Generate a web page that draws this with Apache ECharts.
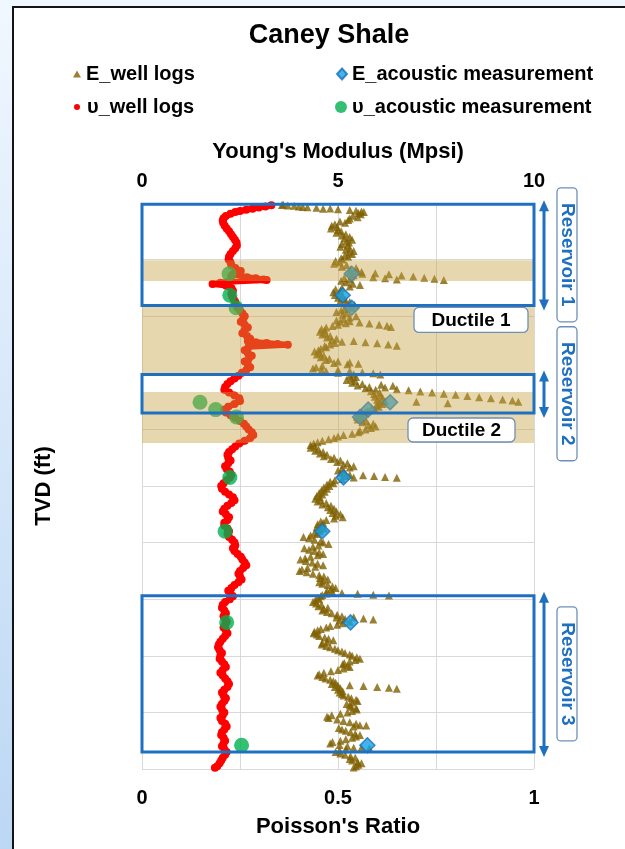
<!DOCTYPE html>
<html>
<head>
<meta charset="utf-8">
<script src="https://cdn.jsdelivr.net/npm/echarts@6/dist/echarts.min.js"></script>
<style>
  html, body { margin: 0; padding: 0; }
  body {
    width: 625px; height: 849px; overflow: hidden; position: relative;
    background: linear-gradient(180deg, #f1f7fe 0%, #d9e9fa 45%, #bcd7f4 100%);
  }
  #panel {
    position: absolute; left: 12px; top: 6px; width: 640px; height: 870px;
    background: #ffffff; border: 2.5px solid #141414;
  }
  #chart { position: absolute; left: 0; top: 0; width: 625px; height: 849px; }
</style>
</head>
<body>
<div id="panel"></div>
<div id="chart"></div>
<script>
// Well-log Poisson's ratio: [TVD ft, ratio]
const nuWellLog = [
  [0.4,0.330],[0.6,0.315],[0.8,0.298],[1.0,0.282],[1.2,0.266],[1.4,0.250],[1.6,0.238],[1.9,0.226],
  [2.3,0.214],[2.7,0.208],[3.1,0.206],[3.5,0.207],[4.0,0.211],[4.5,0.216],[5.0,0.222],[5.5,0.227],
  [6.0,0.232],[6.5,0.237],[7.0,0.241],[7.5,0.242],[8.0,0.238],[8.5,0.232],[9.0,0.226],[9.5,0.222],
  [10.0,0.221],[10.5,0.226],[11.0,0.228],[11.5,0.238],[12.0,0.252],[12.3,0.244],[12.6,0.232],[12.9,0.228],
  [13.1,0.268],[13.3,0.290],[13.5,0.310],[13.6,0.318],[13.9,0.220],[14.1,0.200],[14.3,0.180],[14.6,0.215],
  [15.0,0.228],[15.5,0.232],[16.0,0.228],[16.5,0.230],[17.0,0.234],[17.5,0.238],[18.0,0.240],[18.5,0.244],
  [19.0,0.250],[19.5,0.256],[20.0,0.262],[20.5,0.258],[21.0,0.252],[21.5,0.262],[22.0,0.270],[22.5,0.262],
  [23.0,0.256],[23.5,0.268],[24.0,0.276],[24.4,0.270],[24.6,0.290],[24.75,0.318],[24.9,0.346],[25.05,0.372],
  [25.4,0.272],[26.0,0.262],[26.5,0.270],[27.0,0.280],[27.5,0.272],[28.0,0.262],[28.5,0.270],[29.0,0.276],
  [29.5,0.266],[30.0,0.255],[30.5,0.246],[31.0,0.236],[31.5,0.226],[32.0,0.218],[32.5,0.212],[33.0,0.210],
  [33.5,0.222],[34.0,0.236],[34.5,0.248],[35.0,0.250],[35.5,0.236],[36.0,0.220],[36.5,0.210],[37.0,0.214],
  [37.5,0.226],[38.0,0.238],[38.5,0.250],[39.0,0.260],[39.5,0.266],[40.0,0.272],[40.5,0.280],[41.0,0.284],
  [41.5,0.276],[42.0,0.262],[42.5,0.248],[43.0,0.238],[43.5,0.230],[44.0,0.222],[44.5,0.218],[45.0,0.220],
  [45.5,0.226],[46.0,0.220],[46.5,0.212],[47.0,0.216],[47.5,0.224],[48.0,0.228],[48.5,0.224],[49.0,0.216],
  [49.5,0.208],[50.0,0.202],[50.5,0.204],[51.0,0.212],[51.5,0.222],[52.0,0.232],[52.5,0.236],[53.0,0.228],
  [53.5,0.218],[54.0,0.210],[54.5,0.206],[55.0,0.214],[55.5,0.222],[56.0,0.218],[56.5,0.210],[57.0,0.210],
  [57.5,0.218],[58.0,0.222],[58.5,0.218],[59.0,0.222],[59.5,0.230],[60.0,0.236],[60.5,0.238],[61.0,0.232],
  [61.5,0.236],[62.0,0.244],[62.5,0.252],[63.0,0.256],[63.5,0.262],[64.0,0.266],[64.5,0.258],[65.0,0.250],
  [65.5,0.246],[66.0,0.250],[66.5,0.254],[67.0,0.246],[67.5,0.236],[68.0,0.228],[68.5,0.220],[69.0,0.226],
  [69.5,0.232],[70.0,0.224],[70.5,0.212],[71.0,0.206],[71.5,0.204],[72.0,0.210],[72.5,0.214],[73.0,0.208],
  [73.5,0.212],[74.0,0.216],[74.5,0.212],[75.0,0.208],[75.5,0.214],[76.0,0.218],[76.5,0.212],[77.0,0.206],
  [77.5,0.200],[78.0,0.196],[78.5,0.194],[79.0,0.198],[79.5,0.204],[80.0,0.200],[80.5,0.198],[81.0,0.204],
  [81.5,0.210],[82.0,0.214],[82.5,0.206],[83.0,0.200],[83.5,0.206],[84.0,0.212],[84.5,0.218],[85.0,0.222],
  [85.5,0.218],[86.0,0.210],[86.5,0.204],[87.0,0.208],[87.5,0.214],[88.0,0.210],[88.5,0.204],[89.0,0.200],
  [89.5,0.204],[90.0,0.210],[90.5,0.206],[91.0,0.200],[91.5,0.204],[92.0,0.212],[92.5,0.216],[93.0,0.210],
  [93.5,0.204],[94.0,0.202],[94.5,0.208],[95.0,0.212],[95.5,0.208],[96.0,0.204],[96.5,0.210],[97.0,0.216],
  [97.5,0.212],[98.0,0.206],[98.5,0.202],[99.0,0.198],[99.5,0.192],[99.8,0.186]
];

// Well-log Young's modulus (Mpsi), sampled every 0.25 ft from 0.25 ft down
const eLogStartFt = 0.25;
const eLogStepFt = 0.25;
const eWellLog = [
  3.60, 3.88, 4.22,
  4.62, 5.30, 5.60, 5.52,   5.58, 5.38, 5.50, 5.30,   5.26, 5.05, 5.18, 4.92,   4.84, 4.98, 4.82, 5.00,
  5.08, 4.96, 5.20, 5.10,   5.30, 5.16, 5.36, 5.22,   5.28, 5.10, 5.24, 5.06,   5.30, 5.20, 5.40, 5.28,
  5.36, 5.18, 5.26, 5.08,   5.12, 4.94, 5.04, 4.90,   5.22, 5.10, 5.46, 5.32,   5.50, 5.30, 5.62, 5.40,
  5.34, 5.16, 5.30, 5.08,   5.20, 5.38, 5.56, 5.30,   5.10, 4.94, 5.06, 4.88,   5.02, 4.92, 5.12, 5.00,
  5.18, 5.06, 5.30, 5.20,   5.42, 5.28, 5.36, 5.16,   5.08, 4.96, 5.22, 5.12,   5.46, 5.30, 5.14, 4.96,
  5.06, 5.20, 5.00, 4.86,   4.70, 4.58, 4.66, 4.54,   4.68, 4.60, 4.80, 4.72,   4.96, 4.84, 5.10, 4.92,
  4.80, 4.66, 4.70, 4.56,   4.50, 4.40, 4.54, 4.46,   4.64, 4.56, 4.78, 4.70,   5.00, 4.90, 5.24, 4.60,
  4.44, 4.36, 4.58, 4.70,   5.00, 5.40, 5.30, 5.46,   5.34, 5.22, 5.44, 5.36,   5.62, 5.50, 5.80, 5.70,
  5.96, 5.84, 6.06, 5.92,   6.08, 5.94, 6.14, 6.00,   6.20, 6.06, 6.14, 5.98,   6.04, 5.86, 5.94, 5.76,
  5.70, 5.56, 5.62, 5.48,   5.60, 5.50, 5.72, 5.62,   5.90, 5.78, 5.96, 5.84,   5.70, 5.56, 5.52, 5.36,
  5.14, 5.00, 4.90, 4.76,   4.60, 4.48, 4.38, 4.30,   4.40, 4.30, 4.50, 4.42,   4.62, 4.54, 4.72, 4.64,
  4.90, 4.82, 5.06, 4.98,   5.24, 5.14, 5.40, 5.30,   5.10, 5.00, 5.16, 5.06,   5.30, 5.20, 5.40, 5.10,
  4.92, 4.80, 4.88, 4.72,   4.78, 4.64, 4.72, 4.58,   4.66, 4.52, 4.60, 4.46,   4.54, 4.42, 4.56, 4.48,
  4.70, 4.60, 4.82, 4.74,   4.90, 4.80, 4.96, 4.86,   5.06, 4.94, 5.12, 4.90,   4.70, 4.56, 4.62, 4.48,
  4.58, 4.46, 4.64, 4.54,   4.52, 4.40, 4.46, 4.30,   4.12, 4.26, 4.40, 4.56,   4.62, 4.76, 4.50, 4.36,
  4.14, 4.26, 4.40, 4.52,   4.62, 4.48, 4.30, 4.16,   4.04, 4.18, 4.34, 4.48,   4.62, 4.42, 4.22, 4.08,
  4.02, 4.20, 4.36, 4.52,   4.64, 4.54, 4.74, 4.62,   4.52, 4.60, 4.74, 4.86,   4.94, 4.82, 4.72, 4.86,
  4.70, 4.60, 4.56, 4.48,   4.52, 4.42, 4.36, 4.44,   4.58, 4.50, 4.74, 4.64,   4.60, 4.72, 4.84, 4.98,
  5.10, 4.96, 5.18, 5.04,   5.30, 5.12, 4.98, 4.80,   4.70, 4.56, 4.48, 4.40,   4.38, 4.46, 4.52, 4.66,
  4.76, 4.88, 4.72, 4.60,   4.58, 4.70, 4.80, 4.92,   5.00, 5.10, 5.18, 5.30,   5.36, 5.48, 5.56, 5.44,
  5.30, 5.16, 5.12, 5.24,   5.30, 5.14, 5.00, 4.82,   4.64, 4.52, 4.48, 4.60,   4.68, 4.80, 4.88, 4.94,
  4.84, 5.00, 4.92, 5.06,   5.00, 5.12, 5.04, 5.10,   5.14, 5.26, 5.34, 5.46,   5.50, 5.36, 5.22, 5.30,
  5.34, 5.46, 5.48, 5.36,   5.24, 5.06, 4.84, 4.72,   4.76, 4.98, 5.14, 5.30,   5.46, 5.56, 5.40, 5.02,
  5.10, 5.20, 5.32, 5.44,   5.56, 5.46, 5.36, 5.20,   5.06, 4.86, 4.80, 5.04,   5.24, 5.40, 5.20, 5.04,
  4.94, 5.06, 5.18, 5.32,   5.44, 5.30, 5.36, 5.50,   5.60, 5.52, 5.46, 5.40
];

// Rapid excursions of the modulus log between regular samples: [TVD ft, Mpsi]
const eWellLogRuns = [
  [0.35,3.57],[0.45,3.72],[0.6,4.00],[0.7,4.10],[0.85,4.45],[0.95,4.80],[1.1,5.00],[1.35,5.46],[1.6,5.66],
  [12.2,5.60],[12.4,5.95],[12.6,6.30],[12.8,6.62],[13.0,6.92],[13.2,7.20],[13.4,7.46],[13.6,7.70],
  [13.1,5.90],[13.3,6.20],[13.5,6.50],
  [20.9,5.30],[21.1,5.55],[21.3,5.80],[21.5,6.05],[21.7,6.25],[21.9,6.35],
  [24.4,5.40],[24.6,5.70],[24.8,6.00],[25.0,6.28],[25.2,6.50],
  [28.2,5.30],[28.4,5.52],
  [29.5,5.00],[29.7,5.30],[29.9,5.62],[30.1,5.90],[30.3,6.08],
  [32.1,6.10],[32.3,6.40],
  [32.6,6.20],[32.9,6.50],[33.1,6.80],[33.3,7.10],[33.5,7.40],[33.7,7.70],[33.9,8.00],[34.1,8.30],
  [34.3,8.60],[34.5,8.90],[34.7,9.20],[34.9,9.45],[35.1,9.60],[35.1,7.00],[35.4,7.80],
  [48.1,5.64],[48.25,5.92],[48.4,6.20],[48.55,6.50],
  [68.9,5.10],[69.05,5.50],[69.2,5.90],[69.35,6.30],
  [73.2,5.40],[73.4,5.65],[73.6,5.90],
  [85.2,5.30],[85.35,5.65],[85.5,6.00],[85.65,6.30],[85.8,6.50],
  [92.3,5.72],[96.2,5.60],[96.35,5.80]
];

// Core-plug acoustic measurements
const sampleDepth = [12.5, 16.3, 18.5, 35.2, 36.5, 37.8, 48.5, 58.0, 74.1, 95.8];
const eAcoustic   = [5.35, 5.12, 5.35, 6.33, 5.77, 5.56, 5.14, 4.60, 5.32, 5.75];
const nuAcoustic  = [0.222, 0.224, 0.240, 0.148, 0.188, 0.241, 0.224, 0.212, 0.216, 0.254];

// Intervals (TVD ft)
const reservoirNames  = ['Reservoir 1', 'Reservoir 2', 'Reservoir 3'];
const reservoirTop    = [0.2, 30.3, 69.4];
const reservoirBottom = [18.1, 37.1, 97.0];
const ductileBandTop    = [10.1, 18.1, 33.4];
const ductileBandBottom = [13.8, 30.2, 42.4];
const ductileNames = ['Ductile 1', 'Ductile 2'];

const FONT = "'Liberation Sans', Arial, sans-serif";
const BLUE = '#1f70c1';
const LABEL_BORDER = '#6f8fb6';

const chart = echarts.init(document.getElementById('chart'), null, { renderer: 'canvas' });

const eModulusPoints = eWellLog
  .map((v, i) => [v, eLogStartFt + i * eLogStepFt])
  .concat(eWellLogRuns.map(p => [p[1], p[0]]));
const nuPoints = nuWellLog.map(p => [p[1], p[0]]);

function legendBox(name, left, top, icon, w, h, padLeft) {
  return {
    data: [{ name: name, icon: icon }],
    left: left, top: top, padding: 0,
    itemWidth: w, itemHeight: h,
    selectedMode: false,
    textStyle: { fontFamily: FONT, fontWeight: 'bold', fontSize: 20, color: '#000', padding: [0, 0, 0, padLeft || 0] }
  };
}

const option = {
  animation: false,
  backgroundColor: 'transparent',
  textStyle: { fontFamily: FONT },
  title: {
    text: 'Caney Shale', left: 329, top: 22, textAlign: 'center', padding: 0,
    textStyle: { fontFamily: FONT, fontWeight: 'bold', fontSize: 27, color: '#000' }
  },
  legend: [
    legendBox('E_well logs', 73, 64, 'triangle', 8, 7, 0),
    legendBox('υ_well logs', 74, 97, 'circle', 6, 6, 2),
    legendBox('E_acoustic measurement', 336, 64, 'diamond', 10, 11, 0),
    legendBox('υ_acoustic measurement', 335, 97, 'circle', 12, 12, 0)
  ],
  grid: { left: 142, right: 91, top: 203, bottom: 80 },
  xAxis: [
    {
      type: 'value', position: 'bottom', min: 0, max: 1, interval: 0.5,
      name: "Poisson's Ratio", nameLocation: 'middle', nameGap: 47,
      nameTextStyle: { fontFamily: FONT, fontWeight: 'bold', fontSize: 22, color: '#000' },
      axisLine: { show: true, lineStyle: { color: '#bfbfbf', width: 1 } },
      axisTick: { show: true, length: 5, lineStyle: { color: '#bfbfbf' } },
      axisLabel: { fontFamily: FONT, fontWeight: 'bold', fontSize: 20, color: '#000', margin: 19 },
      splitLine: { show: true, lineStyle: { color: '#d9d9d9', width: 1 } },
      minorTick: { show: false, splitNumber: 2 },
      minorSplitLine: { show: true, lineStyle: { color: '#d9d9d9', width: 1 } }
    },
    {
      type: 'value', position: 'top', min: 0, max: 10, interval: 5,
      name: "Young's Modulus (Mpsi)", nameLocation: 'middle', nameGap: 40,
      nameTextStyle: { fontFamily: FONT, fontWeight: 'bold', fontSize: 22, color: '#000' },
      axisLine: { show: false }, axisTick: { show: false }, splitLine: { show: false },
      axisLabel: { fontFamily: FONT, fontWeight: 'bold', fontSize: 20, color: '#000', margin: 12 }
    }
  ],
  yAxis: {
    type: 'value', inverse: true, min: 0, max: 100, interval: 10,
    name: 'TVD (ft)', nameLocation: 'middle', nameRotate: 90, nameGap: 87,
    nameTextStyle: { fontFamily: FONT, fontWeight: 'bold', fontSize: 22, color: '#000' },
    axisLine: { show: false }, axisTick: { show: false }, axisLabel: { show: false },
    splitLine: { show: true, lineStyle: { color: '#d9d9d9', width: 1 } }
  },
  series: [
    {
      name: 'E_well logs', type: 'scatter', xAxisIndex: 1, z: 2,
      symbol: 'triangle', symbolSize: 8,
      itemStyle: { color: '#7f6000' },
      data: eModulusPoints
    },
    {
      // dense log samples drawn as touching dots
      name: 'υ_well logs', type: 'line', xAxisIndex: 0, z: 2,
      symbol: 'circle', symbolSize: 8, showSymbol: true,
      itemStyle: { color: '#ff0000' },
      lineStyle: { color: '#ff0000', width: 6, cap: 'round', join: 'round' },
      data: nuPoints
    },
    {
      name: 'E_acoustic measurement', type: 'scatter', xAxisIndex: 1, z: 2,
      symbol: 'diamond', symbolSize: 15,
      itemStyle: { color: '#12a3e6', borderColor: '#1b6fb8', borderWidth: 1.5 },
      data: sampleDepth.map((d, i) => [eAcoustic[i], d])
    },
    {
      name: 'υ_acoustic measurement', type: 'scatter', xAxisIndex: 0, z: 2,
      symbol: 'circle', symbolSize: 15,
      itemStyle: { color: '#00b050' },
      data: sampleDepth.map((d, i) => [nuAcoustic[i], d])
    },
    // Ductile intervals: translucent bands across the track
    {
      type: 'custom', xAxisIndex: 0, z: 3, silent: true, clip: false,
      dimensions: ['top', 'bottom'], encode: { y: [0, 1] },
      data: ductileBandTop.map((t, i) => [t, ductileBandBottom[i]]),
      renderItem: function (params, api) {
        const a = api.coord([0, api.value(0)]);
        const b = api.coord([1, api.value(1)]);
        return {
          type: 'rect',
          shape: { x: a[0], y: a[1], width: b[0] - a[0], height: b[1] - a[1] },
          style: { fill: 'rgba(196,160,64,0.42)' }
        };
      }
    },
    // Reservoir outlines, depth arrows and side labels
    {
      type: 'custom', xAxisIndex: 0, z: 4, silent: true, clip: false,
      dimensions: ['top', 'bottom'], encode: { y: [0, 1] },
      data: reservoirTop.map((t, i) => [t, reservoirBottom[i]]),
      renderItem: function (params, api) {
        const a = api.coord([0, api.value(0)]);
        const b = api.coord([1, api.value(1)]);
        const cs = params.coordSys;
        const right = cs.x + cs.width;
        const ax = right + 10;
        const tipTop = a[1] - 4, tipBot = b[1] + 5;
        const cy = (a[1] + b[1]) / 2;
        const lx = right + 33;
        const name = reservoirNames[params.dataIndex];
        return {
          type: 'group',
          children: [
            {
              type: 'rect',
              shape: { x: a[0], y: a[1], width: b[0] - a[0], height: b[1] - a[1] },
              style: { fill: 'none', stroke: BLUE, lineWidth: 3 }
            },
            {
              type: 'line',
              shape: { x1: ax, y1: tipTop + 8, x2: ax, y2: tipBot - 8 },
              style: { stroke: BLUE, lineWidth: 3 }
            },
            {
              type: 'polygon',
              shape: { points: [[ax, tipTop], [ax - 5, tipTop + 11], [ax + 5, tipTop + 11]] },
              style: { fill: BLUE }
            },
            {
              type: 'polygon',
              shape: { points: [[ax, tipBot], [ax - 5, tipBot - 11], [ax + 5, tipBot - 11]] },
              style: { fill: BLUE }
            },
            {
              type: 'rect',
              shape: { x: lx - 10, y: cy - 67, width: 20, height: 134, r: 4 },
              style: { fill: '#ffffff', stroke: LABEL_BORDER, lineWidth: 1.3 }
            },
            {
              type: 'text', x: lx, y: cy, rotation: -Math.PI / 2,
              style: {
                text: name, fill: BLUE, font: 'bold 19px ' + FONT,
                align: 'center', verticalAlign: 'middle'
              }
            }
          ]
        };
      }
    },
    // Ductile interval captions
    {
      type: 'custom', xAxisIndex: 0, z: 5, silent: true, clip: false,
      dimensions: ['top', 'bottom'], encode: { y: [0, 1] },
      data: [[ductileBandTop[1], ductileBandBottom[1]], [ductileBandTop[2], ductileBandBottom[2]]],
      renderItem: function (params, api) {
        const a = api.coord([0, api.value(0)]);
        const b = api.coord([1, api.value(1)]);
        const right = b[0];
        let box;
        if (params.dataIndex === 0) {
          box = { x: right - 120, y: a[1] + 2, width: 114, height: 25 };
        } else {
          box = { x: right - 126, y: b[1] - 25, width: 107, height: 24 };
        }
        return {
          type: 'group',
          children: [
            {
              type: 'rect',
              shape: Object.assign({ r: 5 }, box),
              style: { fill: '#ffffff', stroke: LABEL_BORDER, lineWidth: 1.3 }
            },
            {
              type: 'text', x: box.x + box.width / 2, y: box.y + box.height / 2 + 1,
              style: {
                text: ductileNames[params.dataIndex], fill: '#000', font: 'bold 19px ' + FONT,
                align: 'center', verticalAlign: 'middle'
              }
            }
          ]
        };
      }
    }
  ]
};

chart.setOption(option);
</script>
</body>
</html>
